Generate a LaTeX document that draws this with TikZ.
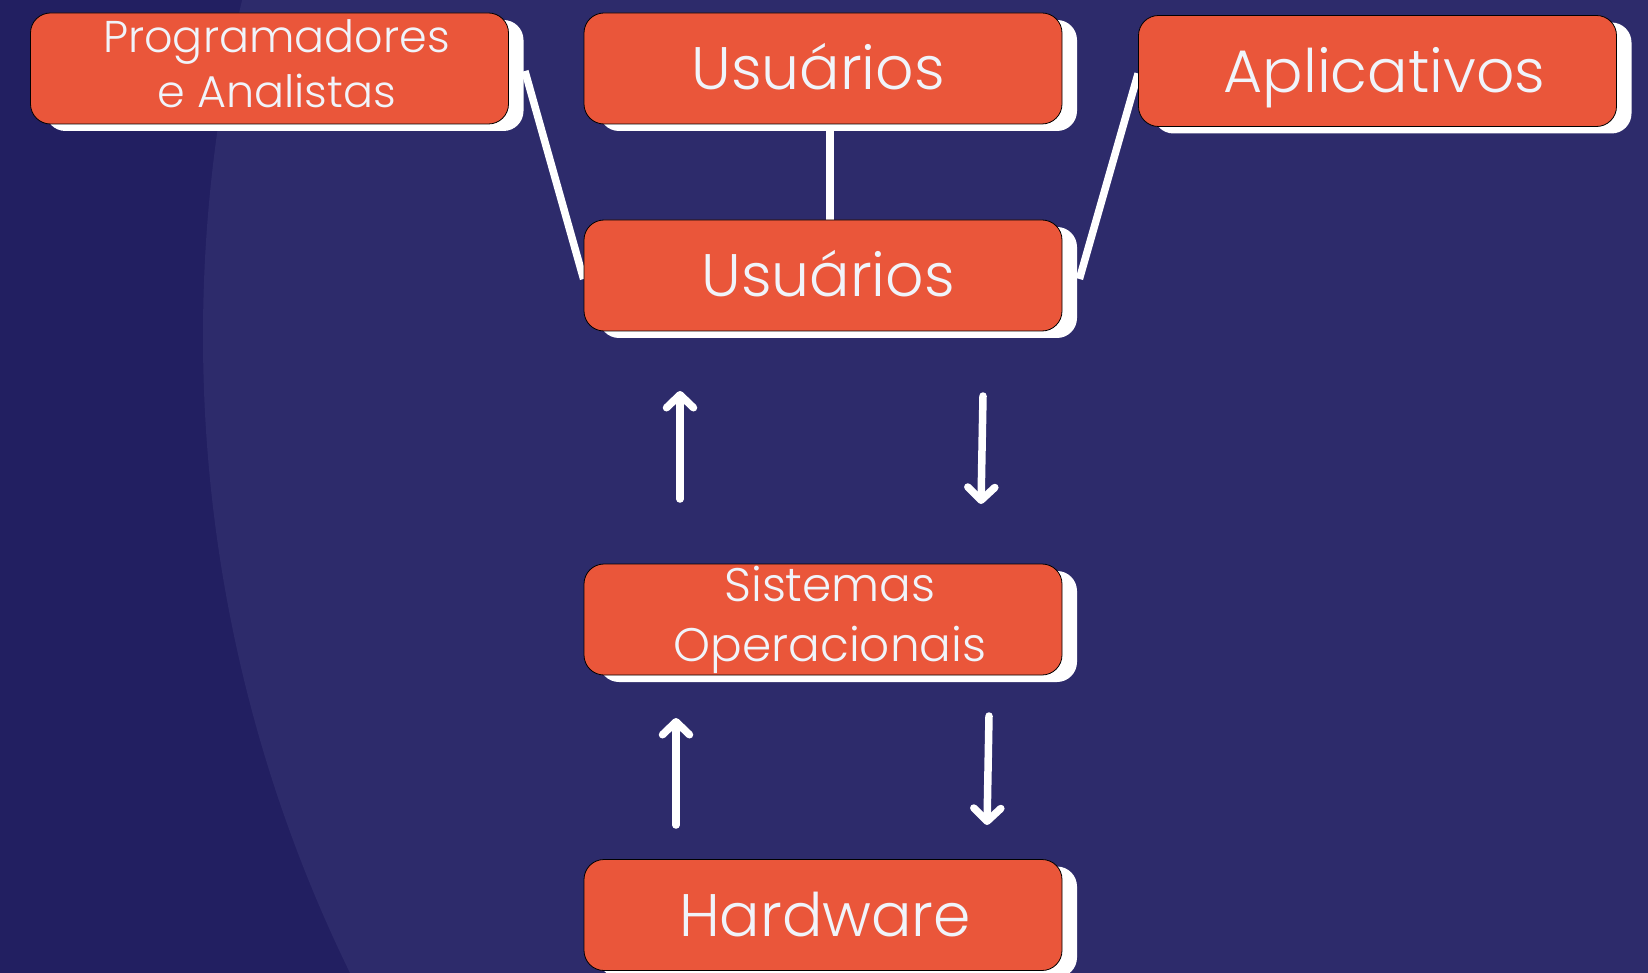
\documentclass[tikz,border=0pt]{standalone}
\usepackage{fontspec}
\setmainfont{Poppins}[UprightFont={* Light}]
\usetikzlibrary{arrows.meta,shadows}
\definecolor{bgdark}{HTML}{221F61}
\definecolor{bglight}{HTML}{2D2B6B}
\definecolor{boxfill}{HTML}{EA563A}
\definecolor{txt}{HTML}{F0F4FA}
\pgfdeclarelayer{bglayer}
\pgfdeclarelayer{linelayer}
\pgfsetlayers{bglayer,linelayer,main}
\begin{document}
\begin{tikzpicture}[x=1pt,y=-1pt,
  box/.style={draw=black, line width=0.8pt, fill=boxfill, rounded corners=20pt,
    minimum width=478pt, minimum height=111pt, inner sep=0pt, text=txt, align=center,
    drop shadow={shadow xshift=15pt, shadow yshift=-7pt, fill=white, opacity=1, draw=none}},
  big/.style={font=\fontsize{60}{66}\selectfont, text height=43pt, text depth=0pt},
  smallp/.style={font=\fontsize{44.5}{55}\selectfont, text height=0pt, text depth=0pt},
  smalls/.style={font=\fontsize{47}{60}\selectfont, text height=0pt, text depth=0pt},
  conn/.style={draw=white, line width=7.5pt},
  arr/.style={draw=white, line width=7.5pt, line cap=round, -{Straight Barb[round,length=13pt,width=27pt]}}
]
\begin{pgfonlayer}{bglayer}
  \fill[bgdark] (0,0) rectangle (1648,973);
  \begin{scope}
    \clip (0,0) rectangle (1648,973);
    \fill[bglight] (1653,336) circle (1450pt);
  \end{scope}
\end{pgfonlayer}
\useasboundingbox (0,0) rectangle (1648,973);

\node[box,smallp] (prog) at (269.5,68.5) {\hspace*{14pt}\raisebox{-6.5pt}[0pt][0pt]{\begin{tabular}{@{}c@{}}Programadores\\e Analistas\end{tabular}}};
\node[box,big] (usu1) at (823,68.5) {Usuários\hspace*{10pt}};
\node[box,big] (apl) at (1377.5,71) {\hspace*{14pt}Aplicativos};
\node[box,big] (usu2) at (823,275.5) {\hspace*{10pt}Usuários};
\node[box,smalls] (sist) at (823,619.5) {\hspace*{14pt}\raisebox{-6.5pt}[0pt][0pt]{\begin{tabular}{@{}c@{}}Sistemas\\Operacionais\end{tabular}}};
\node[box,big] (hard) at (823,915) {\hspace*{4pt}Hardware};

\coordinate (a1s) at (680,499);
\coordinate (a1e) at (680,391);
\coordinate (a2s) at (983,396);
\coordinate (a2e) at (981,504);
\coordinate (a3s) at (676,825);
\coordinate (a3e) at (676,718);
\coordinate (a4s) at (989,716);
\coordinate (a4e) at (987,825);

\begin{pgfonlayer}{linelayer}
  \draw[conn] ([xshift=7pt]usu1.south) -- ([xshift=7pt]usu2.north);
  \draw[conn] ([xshift=16pt,yshift=-2.5pt]prog.east) -- ([yshift=-3.5pt]usu2.west);
  \draw[conn] ([yshift=-2.5pt]apl.west) -- ([xshift=17pt,yshift=-3.5pt]usu2.east);
\end{pgfonlayer}

\draw[arr] (a1s) -- (a1e);
\draw[arr] (a2s) -- (a2e);
\draw[arr] (a3s) -- (a3e);
\draw[arr] (a4s) -- (a4e);
\end{tikzpicture}
\end{document}
